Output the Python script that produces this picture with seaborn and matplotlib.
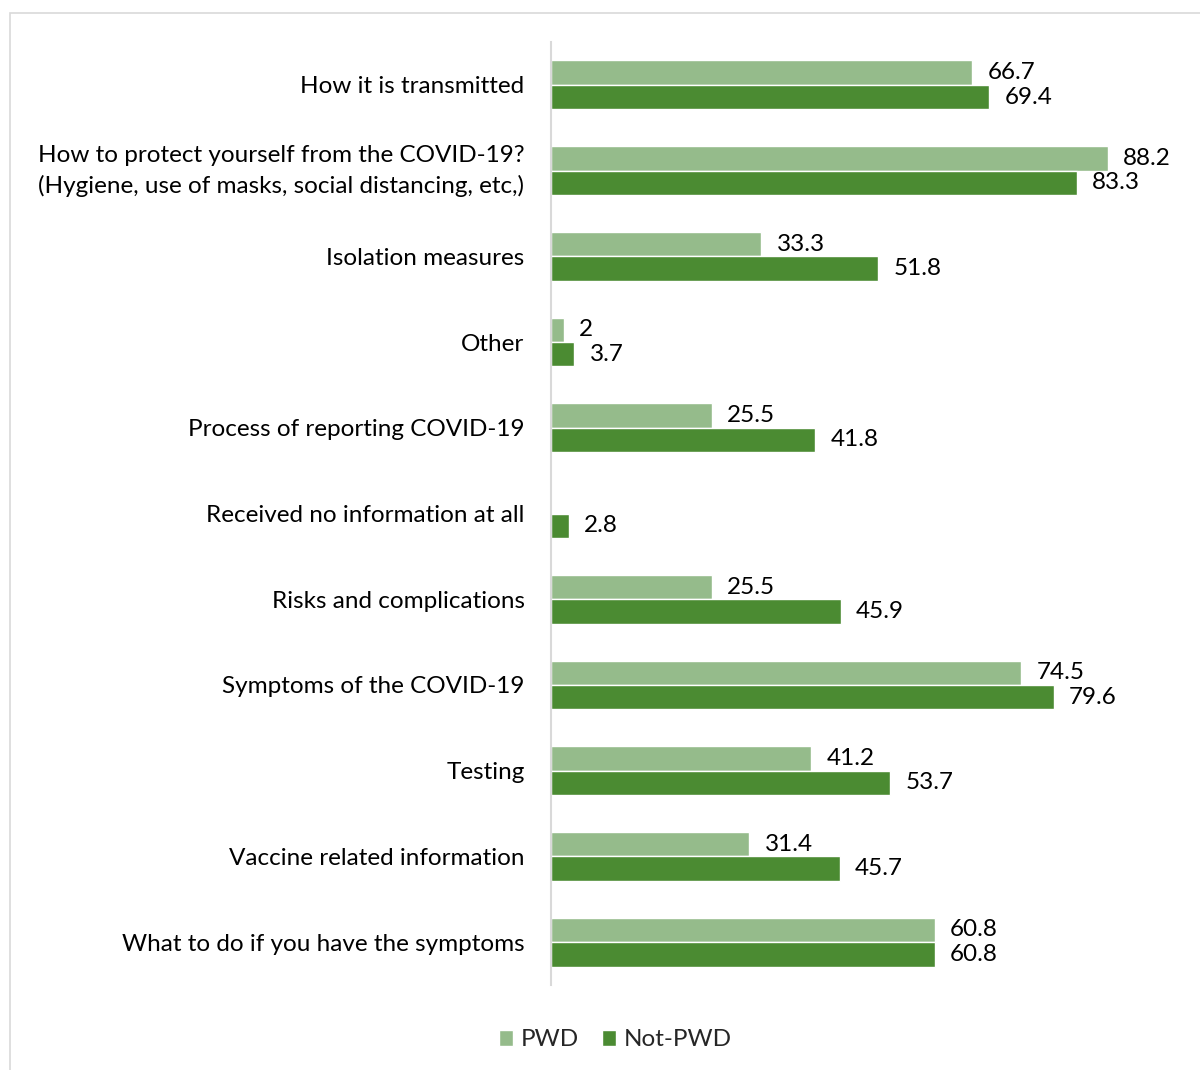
import numpy as np
import pandas as pd
import matplotlib
matplotlib.use("Agg")
import matplotlib.pyplot as plt
from matplotlib.patches import Rectangle
import seaborn as sns

categories = [
    "How it is transmitted",
    "How to protect yourself from the COVID-19?\n(Hygiene, use of masks, social distancing, etc,)",
    "Isolation measures",
    "Other",
    "Process of reporting COVID-19",
    "Received no information at all",
    "Risks and complications",
    "Symptoms of the COVID-19",
    "Testing",
    "Vaccine related information",
    "What to do if you have the symptoms",
]
# PWD gave no answer for "Received no information at all" (no bar, no label)
pwd = [66.7, 88.2, 33.3, 2, 25.5, 0, 25.5, 74.5, 41.2, 31.4, 60.8]
not_pwd = [69.4, 83.3, 51.8, 3.7, 41.8, 2.8, 45.9, 79.6, 53.7, 45.7, 60.8]
groups = ["PWD", "Not-PWD"]
colors = ["#95BB8B", "#4B8B32"]

df = pd.DataFrame({
    "category": categories * 2,
    "value": pwd + not_pwd,
    "group": [groups[0]] * len(categories) + [groups[1]] * len(categories),
})

sns.set_theme(style="white")
plt.rcParams["font.family"] = ["Lato", "DejaVu Sans"]
FS = 17.5

fig = plt.figure(figsize=(12, 10.7), dpi=100)
ax = fig.add_axes([551 / 1200, 1 - 985 / 1070, 631.5 / 1200, 943 / 1070])

sns.barplot(data=df, y="category", x="value", hue="group", order=categories,
            hue_order=groups, palette=colors, orient="h", width=0.57,
            saturation=1, ax=ax, legend=True)

ax.set_xlim(0, 100)
ax.set_xlabel("")
ax.set_ylabel("")
ax.set_xticks([])
ax.tick_params(axis="y", length=0, pad=19, labelsize=FS, labelcolor="black")
for lbl in ax.get_yticklabels():
    lbl.set_horizontalalignment("right")
    lbl.set_multialignment("center")
    if "\n" in lbl.get_text():
        lbl.set_linespacing(1.5)
        lbl.set_verticalalignment("center")
for side in ["top", "right", "bottom"]:
    ax.spines[side].set_visible(False)
ax.spines["left"].set_color("#D9D9D9")
ax.spines["left"].set_linewidth(1.5)

for cont, vals in zip(ax.containers, [pwd, not_pwd]):
    labels = ["" if v == 0 else f"{v:g}" for v in vals]
    ax.bar_label(cont, labels=labels, padding=11, fontsize=FS, color="black")

leg = ax.legend(loc="center", bbox_to_anchor=(615 / 1200, 1 - 1040 / 1070),
                bbox_transform=fig.transFigure, ncol=2, frameon=False,
                fontsize=FS, handlelength=0.6, handleheight=0.6,
                handletextpad=0.3, columnspacing=0.95)

fig.patches.append(Rectangle((9.5 / 1200, -0.1), 1.2, 1 - 12.5 / 1070 + 0.1,
                             transform=fig.transFigure, fill=False,
                             edgecolor="#D9D9D9", linewidth=1.2))

fig.savefig("out.png", dpi=100)
